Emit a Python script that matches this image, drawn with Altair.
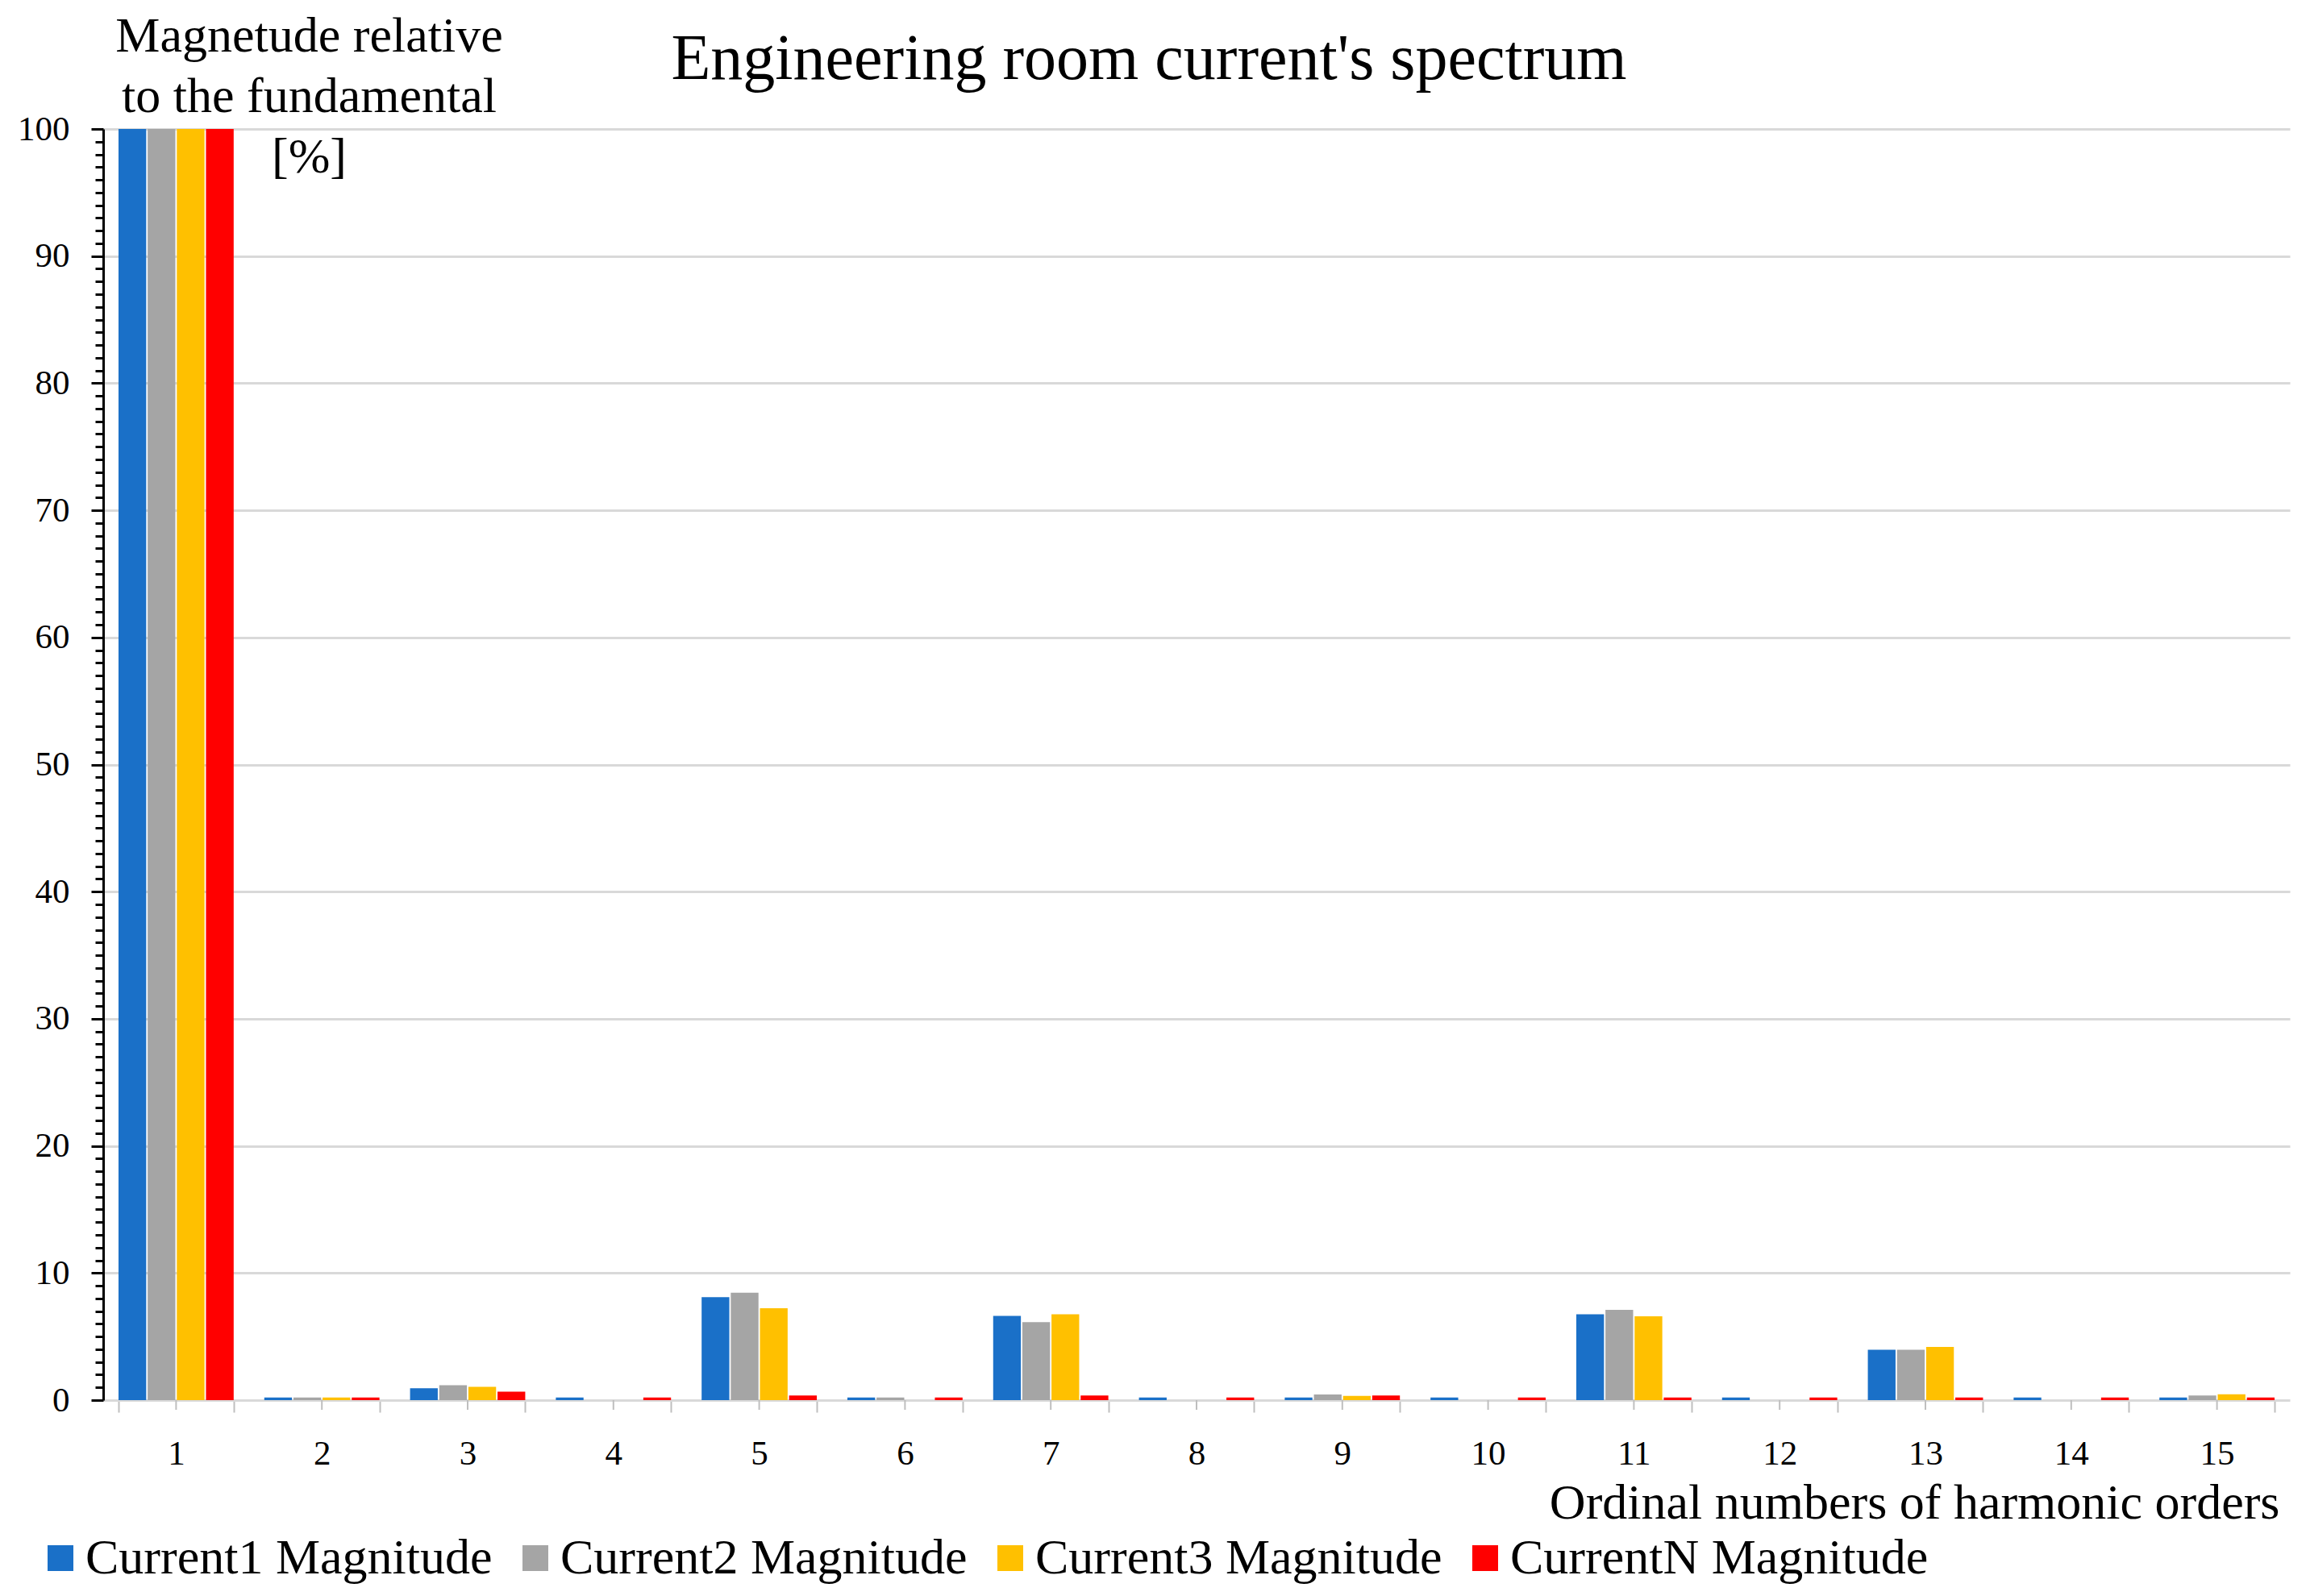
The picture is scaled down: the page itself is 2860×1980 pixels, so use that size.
import altair as alt
import pandas as pd

harmonics = [str(i) for i in range(1, 16)]
series_names = ["Current1 Magnitude", "Current2 Magnitude", "Current3 Magnitude", "CurrentN Magnitude"]
current1 = [100, 0.2, 0.93, 0.2, 8.1, 0.2, 6.62, 0.2, 0.2, 0.2, 6.75, 0.2, 3.96, 0.2, 0.2]
current2 = [100, 0.2, 1.17, 0.0, 8.45, 0.2, 6.13, 0.0, 0.44, 0.0, 7.1, 0.0, 3.96, 0.0, 0.36]
current3 = [100, 0.2, 1.04, 0.0, 7.23, 0.0, 6.75, 0.0, 0.34, 0.0, 6.6, 0.0, 4.19, 0.0, 0.46]
currentN = [100, 0.2, 0.66, 0.2, 0.36, 0.2, 0.36, 0.2, 0.36, 0.2, 0.2, 0.2, 0.2, 0.2, 0.2]
colors = ["#1A70C8", "#A5A5A5", "#FFC000", "#FF0000"]
y_tick_values = list(range(0, 101))

rows = []
for name, vals in zip(series_names, [current1, current2, current3, currentN]):
    for h, v in zip(harmonics, vals):
        rows.append({"harmonic": h, "series": name, "value": v})
df = pd.DataFrame(rows)
df_h = pd.DataFrame({"harmonic": harmonics})

W, H = 2712, 1577
FONT = "Liberation Serif"

x_scale = alt.Scale(domain=harmonics, paddingInner=0.21, paddingOuter=0.105)

bars = alt.Chart(df).mark_bar().encode(
    x=alt.X("harmonic:N", scale=x_scale, sort=harmonics, axis=alt.Axis(
        title="Ordinal numbers of harmonic orders", labelAngle=0, tickBand="extent",
        domainColor="#d9d9d9", domainWidth=3, tickColor="#bfbfbf", tickWidth=2, tickSize=15,
        labelFontSize=43, labelPadding=30, labelColor="black", labelFont=FONT,
        titleFontSize=62, titleFont=FONT, titleFontWeight="normal", titleColor="black",
        titleX=W - 13, titleY=127, titleAlign="right", titleBaseline="middle", grid=False)),
    xOffset=alt.XOffset("series:N", sort=series_names, scale=alt.Scale(paddingInner=0.05)),
    y=alt.Y("value:Q", scale=alt.Scale(domain=[0, 100], nice=False), axis=alt.Axis(
        values=y_tick_values,
        labelExpr="datum.value % 10 === 0 ? datum.label : ''",
        labelOverlap=False, labelFontSize=43, labelFont=FONT, labelColor="black", labelPadding=27,
        tickColor="black", tickWidth=3,
        tickSize={"condition": {"test": "datum.value % 10 === 0", "value": 15}, "value": 10},
        domainColor="black", domainWidth=3,
        grid=True, gridColor="#d9d9d9", gridWidth=3,
        gridOpacity={"condition": {"test": "datum.value % 10 === 0 && datum.value > 0", "value": 1}, "value": 0},
        title=["Magnetude relative", "to the fundamental", "[%]"], titleAngle=0,
        titleX=255, titleY=-146, titleAlign="center", titleBaseline="top", titleLineHeight=75,
        titleFontSize=62, titleFont=FONT, titleFontWeight="normal", titleColor="black")),
    color=alt.Color("series:N", sort=series_names,
                    scale=alt.Scale(domain=series_names, range=colors),
                    legend=alt.Legend(title=None, orient="none", legendX=-84, legendY=1742,
                                      direction="horizontal", symbolType="square", symbolSize=1024,
                                      symbolStrokeWidth=0, labelFontSize=62, labelFont=FONT,
                                      labelColor="black", labelOffset=0, columnPadding=22,
                                      labelLimit=1000, symbolOpacity=1)),
)

center_ticks = alt.Chart(df_h).mark_rule(color="#bfbfbf", strokeWidth=2).encode(
    x=alt.X("harmonic:N", scale=x_scale, sort=harmonics),
    y=alt.value(H), y2=alt.value(H + 12),
)

chart = alt.layer(bars, center_ticks).properties(
    width=W, height=H,
    title=alt.TitleParams("Engineering room current's spectrum", fontSize=80, font=FONT,
                          fontWeight="normal", color="black", anchor="middle", frame="group",
                          dx=-59, dy=106),
    autosize=alt.AutoSizeParams(type="none"),
    padding={"left": 120, "top": 152, "right": 12, "bottom": 235},
).configure_view(stroke=None)

chart.save("out.html", embed_options={"renderer": "svg", "actions": False})
